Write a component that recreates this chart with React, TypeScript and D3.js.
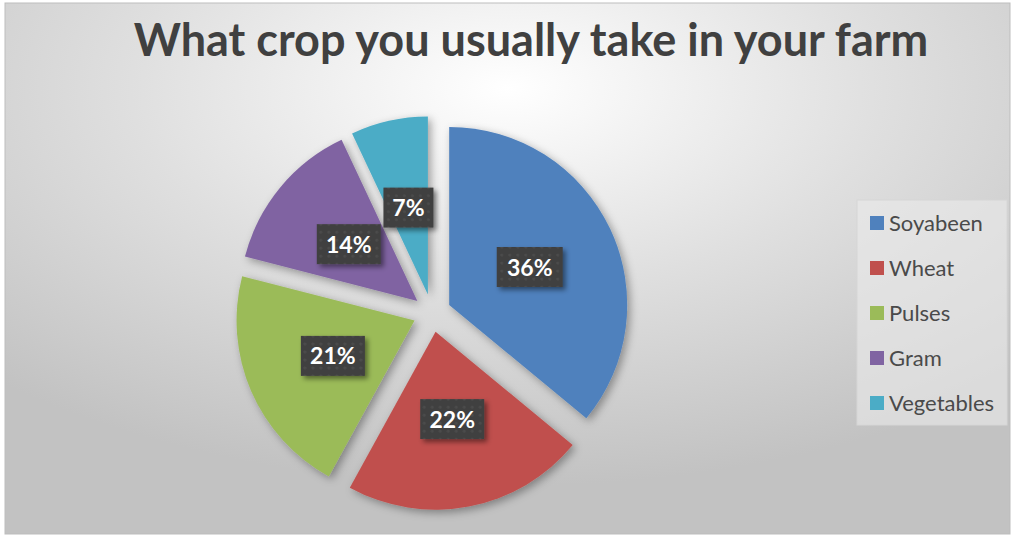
import React from "react";
import * as d3 from "d3";

const categories = ["Soyabeen", "Wheat", "Pulses", "Gram", "Vegetables"];
const values = [36, 22, 21, 14, 7];
const labels = ["36%", "22%", "21%", "14%", "7%"];
const colors = ["#4F81BD", "#C0504D", "#9BBB59", "#8064A2", "#4BACC6"];
const title = "What crop you usually take in your farm";

const W = 1014;
const H = 538;

export default function App() {
  const cx = 432;
  const cy = 313;
  const r = 178;
  const explode = 19;
  const pie = d3.pie<number>().sort(null).value((d) => d);
  const arcs = pie(values);
  const arc = d3.arc<d3.PieArcDatum<number>>().innerRadius(0).outerRadius(r);
  const labelArc = d3.arc<d3.PieArcDatum<number>>().innerRadius(r).outerRadius(r);
  const boxW = [66, 64, 64, 64, 50];

  const legendX = 857;
  const legendY = 200;
  const rowY = d3.scalePoint<string>().domain(categories).range([223, 403]);

  return (
    <svg width={W} height={H} style={{ position: "absolute", left: 0, top: 0 }}>
      <defs>
        <radialGradient id="bg" cx="0.5" cy="0.16" r="0.75" fx="0.5" fy="0.16">
          <stop offset="0" stopColor="#ffffff" />
          <stop offset="0.5" stopColor="#dfdfdf" />
          <stop offset="1" stopColor="#c2c2c2" />
        </radialGradient>
        <filter id="sh" x="-20%" y="-20%" width="140%" height="140%">
          <feDropShadow dx="3" dy="3" stdDeviation="4" floodColor="#000" floodOpacity="0.35" />
        </filter>
        <filter id="lsh" x="-30%" y="-30%" width="160%" height="160%">
          <feDropShadow dx="3" dy="3" stdDeviation="2.5" floodColor="#000" floodOpacity="0.45" />
        </filter>
        <pattern id="dots" width="8" height="8" patternUnits="userSpaceOnUse">
          <rect width="8" height="8" fill="#3f3f3f" />
          <circle cx="4" cy="4" r="1.6" fill="#4c4c4c" />
        </pattern>
      </defs>
      <rect x={0} y={0} width={W} height={H} fill="#ffffff" />
      <rect x={5} y={3} width={1005} height={531} fill="url(#bg)" stroke="#bdbdbd" strokeWidth={1} />
      <text
        x={531}
        y={56}
        textAnchor="middle"
        fontFamily="Lato, 'Open Sans', sans-serif"
        fontWeight={700}
        fontSize={45}
        fill="#404040"
      >
        {title}
      </text>
      <g>
        {arcs.map((a, i) => {
          const mid = (a.startAngle + a.endAngle) / 2;
          const dx = Math.sin(mid) * explode;
          const dy = -Math.cos(mid) * explode;
          return (
            <path
              key={categories[i]}
              d={arc(a) as string}
              transform={`translate(${cx + dx},${cy + dy})`}
              fill={colors[i]}
              filter="url(#sh)"
            />
          );
        })}
      </g>
      <g>
        {arcs.map((a, i) => {
          const mid = (a.startAngle + a.endAngle) / 2;
          const dx = Math.sin(mid) * explode;
          const dy = -Math.cos(mid) * explode;
          const [lx0, ly0] = labelArc.centroid(a);
          const lx = cx + dx + lx0 * 0.5;
          const ly = cy + dy + ly0 * 0.5;
          const bw = boxW[i];
          const bh = 40;
          return (
            <g key={labels[i]} transform={`translate(${lx},${ly})`}>
              <rect x={-bw / 2} y={-bh / 2} width={bw} height={bh} fill="url(#dots)" filter="url(#lsh)" />
              <text
                x={0}
                y={8.5}
                textAnchor="middle"
                fontFamily="Lato, 'Open Sans', sans-serif"
                fontWeight={700}
                fontSize={23}
                fill="#ffffff"
              >
                {labels[i]}
              </text>
            </g>
          );
        })}
      </g>
      <rect x={legendX} y={legendY} width={150} height={225} fill="#ebebeb" fillOpacity={0.6} stroke="#d6d6d6" />
      {categories.map((c, i) => (
        <g key={c} transform={`translate(${legendX + 13},${rowY(c)})`}>
          <rect x={0} y={-7} width={14} height={14} fill={colors[i]} />
          <text
            x={19}
            y={7.5}
            fontFamily="Lato, 'Open Sans', sans-serif"
            fontSize={22}
            fill="#4a4a4a"
          >
            {c}
          </text>
        </g>
      ))}
    </svg>
  );
}
